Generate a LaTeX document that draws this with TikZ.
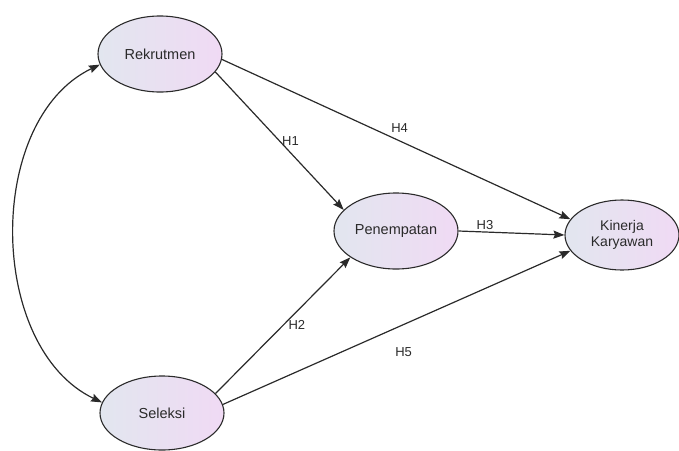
\documentclass[tikz,border=0pt]{standalone}
\usepackage{fontspec}
\setmainfont{Liberation Sans}
\usepackage{xcolor}
\definecolor{sem-line}{HTML}{2A2A2A}
\definecolor{sem-left}{HTML}{E2E6EF}
\definecolor{sem-right}{HTML}{F0DAF4}
\usepackage{tikz}
\usetikzlibrary{arrows.meta,shapes.geometric}

\begin{document}
\begin{tikzpicture}[
  x=1pt, y=-1pt,
  every node/.style={align=center},
  latent/.style={ellipse, draw=sem-line, line width=1.1pt, inner sep=0pt, left color=sem-left, right color=sem-right, text=sem-line, font=\fontsize{14.5}{17}\selectfont},
  arrow/.style={-{Stealth[length=11pt, width=8pt, inset=1.5pt]}, line width=1.2pt, sem-line},
  hyp/.style={font=\fontsize{13}{15}\selectfont, text=sem-line, inner sep=1pt}
]
  \useasboundingbox (0,0) rectangle (679,450);

  \node[latent, minimum width=124pt, minimum height=76pt] (rek) at (160,54) {Rekrutmen};
  \node[latent, minimum width=124pt, minimum height=74pt] (sel) at (162,413) {Seleksi};
  \node[latent, minimum width=124pt, minimum height=76pt] (pen) at (396,231) {Penempatan};
  \node[latent, minimum width=114pt, minimum height=70pt, font=\fontsize{14}{16}\selectfont] (kin) at (622,235) {Kinerja\\Karyawan};

  % correlation between the two exogenous constructs
  \draw[arrow, {Stealth[length=11pt, width=8pt, inset=1.5pt]}-{Stealth[length=11pt, width=8pt, inset=1.5pt]}]
    (rek.190) .. controls +(-115,55) and +(-115,-55) .. (sel.170);

  % hypotheses
  \draw[arrow] (rek.342) -- (pen.158) node[hyp, pos=0.5, right=1pt] {H1};
  \draw[arrow] (rek.355) -- (kin.163) node[hyp, pos=0.51, above=7pt] {H4};
  \draw[arrow] (pen.east) -- (kin.west) node[hyp, pos=0.25, above=1pt] {H3};
  \draw[arrow] (sel.20) -- (pen.210) node[hyp, pos=0.5, right=4pt] {H2};
  \draw[arrow] (sel.8) -- (kin.197) node[hyp, pos=0.52, below=21pt] {H5};
\end{tikzpicture}
\end{document}
